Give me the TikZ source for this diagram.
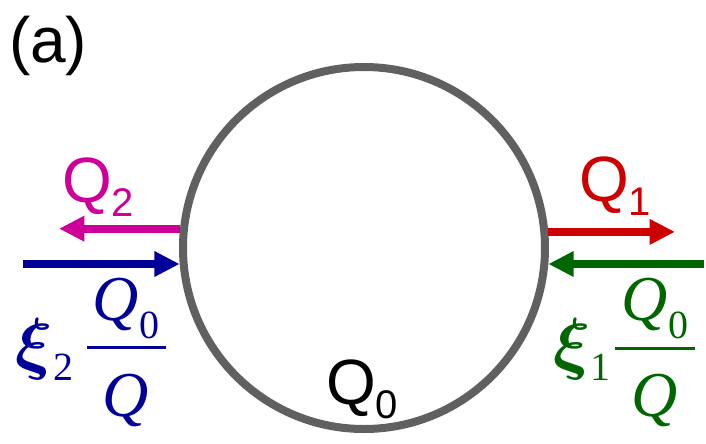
\documentclass[tikz,border=0pt]{standalone}
\usepackage{graphicx}
\usepackage{fontspec}
\setmainfont{Liberation Sans}
\newfontfamily\tms{Liberation Serif}
\usetikzlibrary{arrows.meta}
\definecolor{cmag}{RGB}{204,0,153}
\definecolor{cblue}{RGB}{0,0,153}
\definecolor{cred}{RGB}{204,0,0}
\definecolor{cgreen}{RGB}{0,102,0}
\definecolor{cgray}{RGB}{96,96,96}
\newcommand\mysub[2]{\raisebox{#1}{\fontsize{30}{30}\selectfont\upshape\mdseries #2}}
\newcommand\myxi{\scalebox{2.5}{\fontsize{20}{22}\selectfont\boldmath$\xi$}}
\begin{document}
\begin{tikzpicture}[x=0.75pt,y=-0.75pt,
  big/.style={font=\fontsize{48}{50}\selectfont, inner sep=0pt, outer sep=0pt},
  ser/.style={font=\fontsize{48}{50}\selectfont\tms\itshape, inner sep=0pt, outer sep=0pt},
  flow/.style={line width=6pt, -{Triangle[length=19pt,width=18pt]}},
  fbar/.style={line width=2.25pt}
]
\useasboundingbox (0,0) rectangle (706,443);
\node[circle, draw=cgray, line width=6pt, minimum size=271.5pt, inner sep=0pt] (c) at (364,248) {};
\node[big, anchor=base west] (lab) at (9,62) {(a)};
% labels Q
\node[big, anchor=base west, text=cmag] (q2) at (62,202) {Q\mysub{-11pt}{2}};
\node[big, anchor=base west, text=cred] (q1) at (579,201) {Q\mysub{-11pt}{1}};
\node[big, anchor=base west] (q0) at (326,404) {Q\mysub{-11pt}{0}};
% arrow ends
\coordinate (q2end) at (59,230);
\coordinate (x2start) at (23,264);
\coordinate (q1end) at (675,230);
\coordinate (x1start) at (704,264);
\draw[flow, draw=cmag] (c.174.3) -- (c.174.3 -| q2end);
\draw[flow, draw=cblue] (x2start) -- (x2start -| c.185);
\draw[flow, draw=cred] (c.5.7) -- (c.5.7 -| q1end);
\draw[flow, draw=cgreen] (x1start) -- (x1start -| c.-5);
% left expression
\node[ser, anchor=base west, text=cblue] (xi2) at (16,366) {\myxi\mysub{-10.5pt}{2}};
\coordinate (b2l) at (87,347);
\coordinate (b2r) at (166,347);
\draw[fbar, cblue] (b2l) -- (b2r);
\node[ser, anchor=base, text=cblue] (n2) at (126,320) {Q\mysub{-14pt}{0}};
\node[ser, anchor=base, text=cblue] (d2) at (126,416) {Q};
% right expression
\node[ser, anchor=base west, text=cgreen] (xi1) at (553,366) {\myxi\mysub{-10.5pt}{1}};
\coordinate (b1l) at (615,348);
\coordinate (b1r) at (695,348);
\draw[fbar, cgreen] (b1l) -- (b1r);
\node[ser, anchor=base, text=cgreen] (n1) at (655,320) {Q\mysub{-14pt}{0}};
\node[ser, anchor=base, text=cgreen] (d1) at (655,416) {Q};
\end{tikzpicture}
\end{document}
